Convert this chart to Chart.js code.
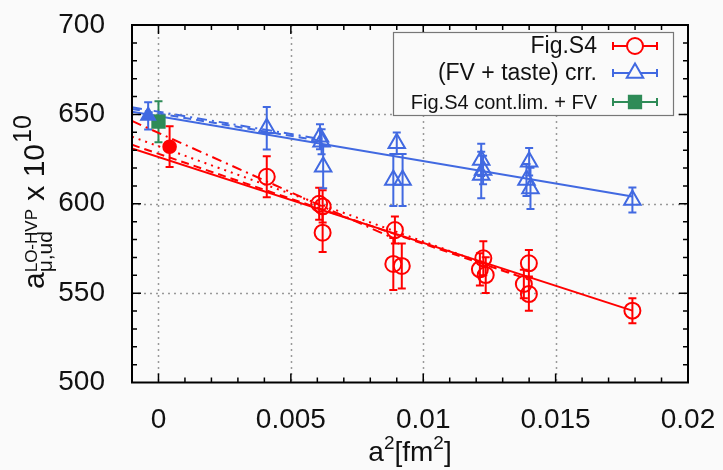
<!DOCTYPE html>
<html><head><meta charset="utf-8">
<script src="https://cdn.jsdelivr.net/npm/chart.js@4"></script>
<style>html,body{margin:0;padding:0;background:#fafafa}</style>
</head><body>
<canvas id="c" width="723" height="470"></canvas>
<script>
// ---- data ----
const xTicks = [0, 0.005, 0.01, 0.015, 0.02];
const yTicks = [500, 550, 600, 650, 700];

const s4X   = [0.00409,0.00607,0.00620,0.00620,0.00893,0.00887,0.00919,0.01227,0.01214,0.01236,0.01399,0.01380,0.01399,0.01790];
const s4Y   = [615.1,600.0,598.5,583.8,585.3,566.3,565.2,569.5,563.3,560.1,566.7,555.1,549.5,540.2];
const s4Err = [11.5,9,9,10.8,7.5,14.5,12.6,9.5,9,10,7.4,8,9.3,7];

const crrX   = [0.00409,0.00610,0.00616,0.00622,0.00900,0.00887,0.00922,0.01219,0.01226,0.01219,0.01400,0.01390,0.01405,0.01790];
const crrY   = [642.2,637.5,634.7,620.7,633.8,613.3,613.3,624.5,618.9,616.1,623.5,613.3,608.6,602.1];
const crrErr = [11.9,7,7,12,6,14.5,14.5,9,8,13,7.7,9,11.6,7];

const s4ContX = [0.00042],  s4ContY = [631.9],  s4ContErr = [11.4];
const crrContX = [-0.00039], crrContY = [649.2], crrContErr = [7.6];
const fvContX = [0.0], fvContY = [645.9], fvContErr = [11.5];

const fitS4X = [-0.001, 0.0179],        fitS4Y = [631.0, 540.2];
const fitS4DashX = [-0.001, 0.0140],    fitS4DashY = [633.0, 557.5];
const fitS4DotX = [-0.001, 0.0137],     fitS4DotY = [637.5, 559.2];
const fitS4DashDotX = [-0.001, 0.0089], fitS4DashDotY = [646.3, 580.5];
const fitCrrX = [-0.001, 0.0179],       fitCrrY = [651.5, 604.0];
const fitCrrDashX = [-0.001, 0.0062],   fitCrrDashY = [653.0, 635.0];
const fitCrrDashDotX = [-0.001, 0.0062],fitCrrDashDotY = [654.0, 636.0];

const legendLabels = ['Fig.S4', '(FV + taste) crr.', 'Fig.S4 cont.lim. + FV'];

// ---- styling ----
const RED = '#ff0000', BLUE = '#4169e1', GREEN = '#2e8b57';
const FONT = "'Liberation Sans', Arial, Helvetica, sans-serif";
const pts = (xs, ys) => xs.map((x, i) => ({x: x, y: ys[i]}));

function pointSet(label, xs, ys, color, style, r, filled) {
  return {label, data: pts(xs, ys), showLine: false, pointStyle: style, pointRadius: r,
    pointHoverRadius: r, pointBorderColor: color, pointBackgroundColor: filled ? color : 'rgba(0,0,0,0)',
    pointBorderWidth: 2, borderColor: color, backgroundColor: color};
}
function lineSet(label, xs, ys, color, dash) {
  return {label, data: pts(xs, ys), showLine: true, pointRadius: 0, borderColor: color,
    borderWidth: 2, borderDash: dash, fill: false, tension: 0};
}

const errGroups = [
  {xs: s4X, ys: s4Y, es: s4Err, c: RED},
  {xs: crrX, ys: crrY, es: crrErr, c: BLUE},
  {xs: s4ContX, ys: s4ContY, es: s4ContErr, c: RED},
  {xs: crrContX, ys: crrContY, es: crrContErr, c: BLUE},
  {xs: fvContX, ys: fvContY, es: fvContErr, c: GREEN}
];

const decor = {
  id: 'decor',
  beforeDatasetsDraw(chart) {
    const ctx = chart.ctx, a = chart.chartArea, sx = chart.scales.x, sy = chart.scales.y;
    ctx.save();
    ctx.strokeStyle = '#999'; ctx.lineWidth = 1.5; ctx.setLineDash([2, 4]);
    xTicks.forEach(v => { if (v <= sx.min || v >= sx.max) return;
      const p = Math.round(sx.getPixelForValue(v)) + 0.5;
      ctx.beginPath(); ctx.moveTo(p, a.top); ctx.lineTo(p, a.bottom); ctx.stroke(); });
    yTicks.forEach(v => { if (v <= sy.min || v >= sy.max) return;
      const p = Math.round(sy.getPixelForValue(v)) + 0.5;
      ctx.beginPath(); ctx.moveTo(a.left, p); ctx.lineTo(a.right, p); ctx.stroke(); });
    ctx.setLineDash([]);
    // error bars
    ctx.lineWidth = 2;
    errGroups.forEach(g => {
      ctx.strokeStyle = g.c;
      g.xs.forEach((x, i) => {
        const px = sx.getPixelForValue(x);
        const p1 = sy.getPixelForValue(g.ys[i] + g.es[i]);
        const p2 = sy.getPixelForValue(g.ys[i] - g.es[i]);
        ctx.beginPath();
        ctx.moveTo(px, p1); ctx.lineTo(px, p2);
        ctx.moveTo(px - 4, p1); ctx.lineTo(px + 4, p1);
        ctx.moveTo(px - 4, p2); ctx.lineTo(px + 4, p2);
        ctx.stroke();
      });
    });
    ctx.restore();
  },
  afterDraw(chart) {
    const ctx = chart.ctx, a = chart.chartArea, sx = chart.scales.x, sy = chart.scales.y;
    ctx.save();
    // frame
    ctx.strokeStyle = '#000'; ctx.lineWidth = 2;
    ctx.strokeRect(a.left, a.top, a.right - a.left, a.bottom - a.top);
    ctx.lineWidth = 1.5;
    ctx.beginPath();
    for (let k = -1; k <= 20; k++) {
      const v = k * 0.001, p = sx.getPixelForValue(v);
      if (p <= a.left + 1 || p >= a.right - 1) continue;
      const L = (k % 5 === 0) ? 9 : 5;
      ctx.moveTo(p, a.bottom); ctx.lineTo(p, a.bottom - L);
      ctx.moveTo(p, a.top); ctx.lineTo(p, a.top + L);
    }
    for (let v = 500; v <= 700; v += 10) {
      const p = sy.getPixelForValue(v);
      if (p <= a.top + 1 || p >= a.bottom - 1) continue;
      const L = (v % 50 === 0) ? 9 : 5;
      ctx.moveTo(a.left, p); ctx.lineTo(a.left + L, p);
      ctx.moveTo(a.right, p); ctx.lineTo(a.right - L, p);
    }
    ctx.stroke();

    // legend
    const bx = 393, by = 32, bw = 280, bh = 83;
    ctx.fillStyle = '#fafafa'; ctx.fillRect(bx, by, bw, bh);
    ctx.strokeStyle = '#777'; ctx.lineWidth = 1.2; ctx.strokeRect(bx + 0.5, by + 0.5, bw, bh);
    const rows = [
      {t: legendLabels[0], y: 46, c: RED, s: 'circle', r: 8, f: false, fs: 23},
      {t: legendLabels[1], y: 73, c: BLUE, s: 'triangle', r: 9.5, f: false, fs: 23},
      {t: legendLabels[2], y: 102, c: GREEN, s: 'rect', r: 8.7, f: true, fs: 20}
    ];
    rows.forEach(r => {
      ctx.fillStyle = '#111'; ctx.font = r.fs + 'px ' + FONT;
      ctx.textAlign = 'right'; ctx.textBaseline = 'middle';
      ctx.fillText(r.t, 597, r.y + 1);
      ctx.strokeStyle = r.c; ctx.lineWidth = 2;
      ctx.beginPath();
      ctx.moveTo(613, r.y); ctx.lineTo(657, r.y);
      ctx.moveTo(613, r.y - 4); ctx.lineTo(613, r.y + 4);
      ctx.moveTo(657, r.y - 4); ctx.lineTo(657, r.y + 4);
      ctx.stroke();
      ctx.fillStyle = r.f ? r.c : '#fafafa';
      Chart.helpers.drawPoint(ctx, {pointStyle: r.s, radius: r.r, borderWidth: 2, rotation: 0}, 635, r.y);
    });

    // x title: a^2[fm^2]
    ctx.fillStyle = '#111'; ctx.textAlign = 'left'; ctx.textBaseline = 'alphabetic';
    const big = '28px ' + FONT, small = '19px ' + FONT;
    const parts = [['a', big, 0], ['2', small, -12], ['[fm', big, 0], ['2', small, -12], [']', big, 0]];
    let w = 0;
    parts.forEach(p => { ctx.font = p[1]; w += ctx.measureText(p[0]).width; });
    let x = (a.left + a.right) / 2 - w / 2;
    const base = 461;
    parts.forEach(p => { ctx.font = p[1]; ctx.fillText(p[0], x, base + p[2]); x += ctx.measureText(p[0]).width; });

    // y title: a_{mu,ud}^{LO-HVP} x 10^{10}
    ctx.translate(44, 289); ctx.rotate(-Math.PI / 2);
    let t = 0;
    ctx.font = '30px ' + FONT; ctx.fillText('a', t, 0); t += ctx.measureText('a').width;
    ctx.font = '21px ' + FONT; ctx.fillText('\u03bc,ud', t, 8); const w1 = ctx.measureText('\u03bc,ud').width;
    ctx.font = '17px ' + FONT; ctx.fillText('LO-HVP', t, -7); const w2 = ctx.measureText('LO-HVP').width;
    t += Math.max(w1, w2);
    ctx.font = '30px ' + FONT; ctx.fillText(' x 10', t, 0); t += ctx.measureText(' x 10').width;
    ctx.font = '25px ' + FONT; ctx.fillText('10', t + 1, -13);
    ctx.restore();
  }
};

const zeroPad = s => { s.paddingTop = 0; s.paddingBottom = 0; s.paddingLeft = 0; s.paddingRight = 0; };

new Chart(document.getElementById('c'), {
  type: 'scatter',
  data: { datasets: [
    pointSet('Fig.S4', s4X, s4Y, RED, 'circle', 8, false),
    pointSet('(FV + taste) crr.', crrX, crrY, BLUE, 'triangle', 9.5, false),
    pointSet('Fig.S4 cont.lim.', s4ContX, s4ContY, RED, 'circle', 6.3, true),
    pointSet('crr. cont.lim.', crrContX, crrContY, BLUE, 'triangle', 8, true),
    pointSet('Fig.S4 cont.lim. + FV', fvContX, fvContY, GREEN, 'rect', 8.7, true),
    lineSet('fit S4', fitS4X, fitS4Y, RED, []),
    lineSet('fit S4 dashed', fitS4DashX, fitS4DashY, RED, [8, 5]),
    lineSet('fit S4 dotted', fitS4DotX, fitS4DotY, RED, [2, 5]),
    lineSet('fit S4 dash-dot', fitS4DashDotX, fitS4DashDotY, RED, [10, 5, 2, 5]),
    lineSet('fit crr', fitCrrX, fitCrrY, BLUE, []),
    lineSet('fit crr dashed', fitCrrDashX, fitCrrDashY, BLUE, [8, 5]),
    lineSet('fit crr dash-dot', fitCrrDashDotX, fitCrrDashDotY, BLUE, [10, 5, 2, 5])
  ]},
  options: {
    responsive: false, animation: false, devicePixelRatio: 1,
    layout: { padding: {top: 25, right: 35, left: 0, bottom: 0} },
    plugins: { legend: {display: false}, tooltip: {enabled: false} },
    scales: {
      x: { type: 'linear', min: -0.001, max: 0.02,
        afterFit: s => { s.height = 87.5; zeroPad(s); },
        grid: {display: false}, border: {display: false},
        ticks: { stepSize: 0.005, includeBounds: false, autoSkip: false, maxRotation: 0, padding: 13, color: '#111',
          font: {family: FONT, size: 28},
          callback: v => (Math.abs(v / 0.005 - Math.round(v / 0.005)) < 1e-6) ? String(+v.toFixed(3)) : '' } },
      y: { type: 'linear', min: 500, max: 700,
        afterFit: s => { s.width = 132; zeroPad(s); },
        grid: {display: false}, border: {display: false},
        ticks: { stepSize: 50, padding: 19, color: '#111', font: {family: FONT, size: 28} } }
    }
  },
  plugins: [decor]
});
</script>
</body></html>
